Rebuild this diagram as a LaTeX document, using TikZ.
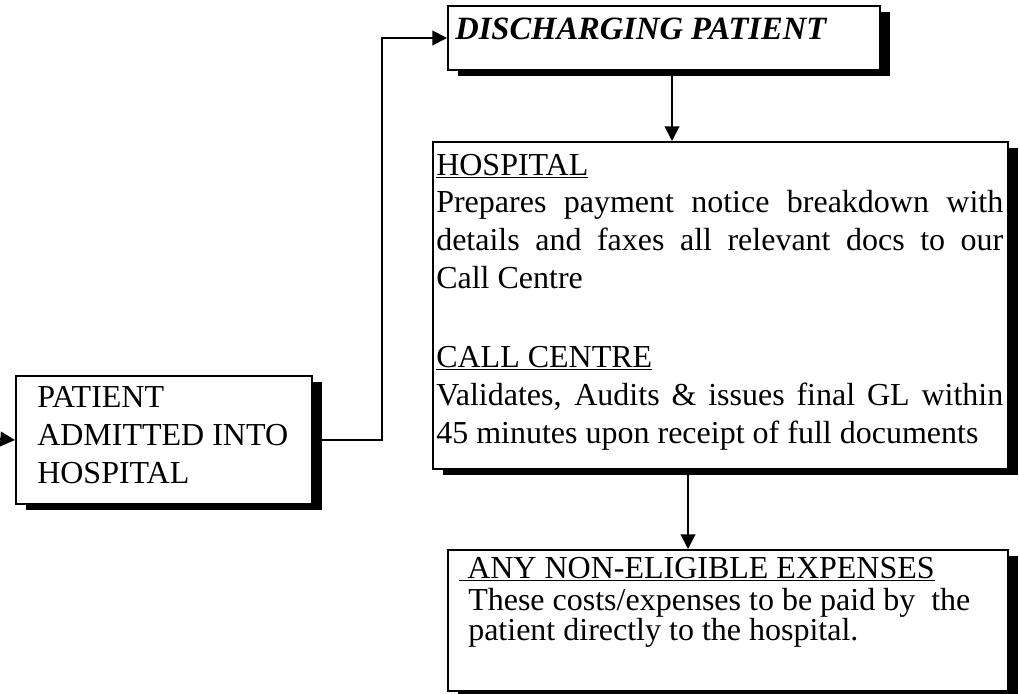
\documentclass[tikz,border=0pt]{standalone}
\usepackage{fontspec}
\setmainfont{Liberation Serif}
\usetikzlibrary{arrows.meta,shadows,calc}
\tikzset{
  boxstyle/.style={draw, line width=1.5pt, fill=white, rectangle, inner sep=0pt,
    anchor=north west,
    general shadow={fill=black, shadow xshift=7.5pt, shadow yshift=-4.8pt}},
  arr/.style={line width=1.5pt, -{Triangle[length=11pt,width=11pt]}},
  txt/.style={anchor=base west, inner sep=0pt, font=\fontsize{24pt}{28pt}\selectfont},
  ttl/.style={anchor=base west, inner sep=0pt, font=\fontsize{24.4pt}{28pt}\selectfont\bfseries\itshape}
}
\newcommand{\jline}[1]{\hbox to 425.25pt{#1}}
\newcommand{\myul}[1]{\setbox0\hbox{#1}\rlap{\rule[-2.6pt]{\wd0}{1.1pt}}\box0}
\begin{document}
\begin{tikzpicture}[x=0.75pt,y=-0.75pt]
\useasboundingbox (0,0) rectangle (1019,693);
% boxes
\node[boxstyle, minimum width=222pt, minimum height=96pt] (adm) at (15,375) {};
\node[boxstyle, minimum width=324pt, minimum height=48pt] (dis) at (447,5) {};
\node[boxstyle, minimum width=431.25pt, minimum height=245.25pt] (hosp) at (432,141) {};
\node[boxstyle, minimum width=420pt, minimum height=105.75pt] (anyb) at (447,549) {};
% texts
\node[txt] (a1) at (37,407) {PATIENT};
\node[txt] (a2) at (37,445) {ADMITTED INTO};
\node[txt] (a3) at (37,483) {HOSPITAL};
\node[ttl] (d1) at (455,39) {DISCHARGING PATIENT};
\node[txt] (h1) at (436,175) {\myul{HOSPITAL}};
\node[txt] (h2) at (436,212) {\jline{Prepares payment notice breakdown with}};
\node[txt] (h3) at (436,250) {\jline{details and faxes all relevant docs to our}};
\node[txt] (h4) at (436,288) {Call Centre};
\node[txt] (h5) at (436,367) {\myul{CALL CENTRE}};
\node[txt] (h6) at (436,405) {\jline{Validates, Audits \& issues final GL within}};
\node[txt] (h7) at (436,443) {45 minutes upon receipt of full documents};
\node[txt] (b1) at (459,578) {\myul{\ ANY NON-ELIGIBLE EXPENSES}};
\node[txt] (b2) at (468,610) {These costs/expenses to be paid by\ \ the};
\node[txt] (b3) at (468,640) {patient directly to the hospital.};
% connectors
\coordinate (in) at (0,439);
\draw[arr] (in) -- (adm.west);
\coordinate (j) at (382,0);
\draw[arr] (adm.east) -| (j |- dis.west) -- (dis.west);
\coordinate (dd) at ($(dis.south west)+(225,0)$);
\draw[arr] (dd) -- (dd |- hosp.north);
\coordinate (hd) at ($(hosp.south west)+(256,0)$);
\draw[arr] (hd) -- (hd |- anyb.north);
\end{tikzpicture}
\end{document}
